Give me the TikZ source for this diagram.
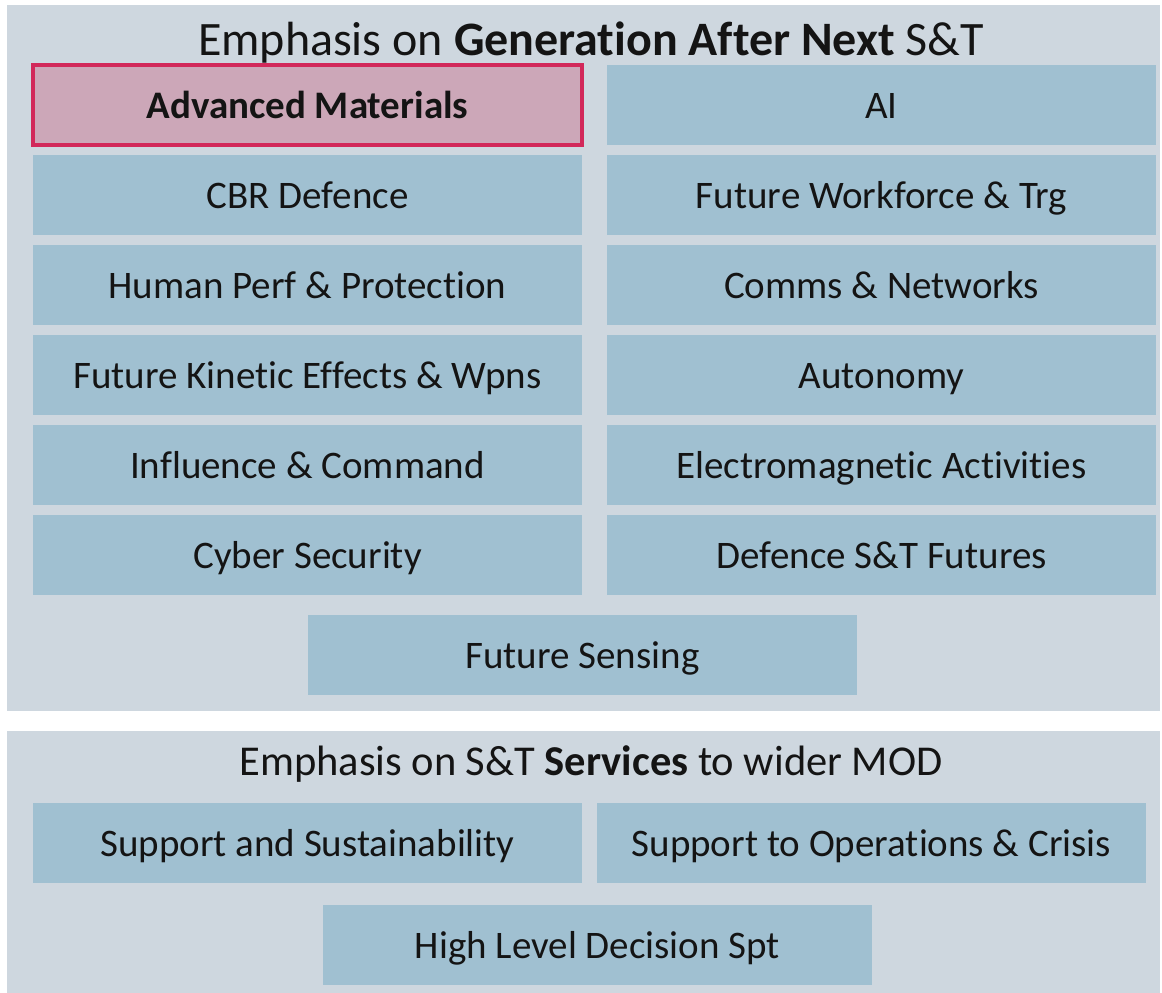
\documentclass[tikz,border=0pt]{standalone}
\usepackage{fontspec}
\setmainfont{Carlito}[Ligatures=NoCommon]
\usepackage{tikz}
\usetikzlibrary{positioning}
\definecolor{panelgray}{RGB}{206,215,223}
\definecolor{tileblue}{RGB}{160,192,209}
\definecolor{tilepink}{RGB}{204,167,184}
\definecolor{accentred}{RGB}{210,40,90}
\definecolor{inkblack}{RGB}{20,20,20}

\begin{document}
\begin{tikzpicture}[x=1pt, y=-1pt, text=inkblack,
    tile/.style={fill=tileblue, minimum width=549pt, minimum height=80pt, inner sep=0pt,
      text height=34pt, text depth=8pt, font=\fontsize{39}{46}\selectfont},
    hilite/.style={tile, fill=tilepink, draw=accentred, line width=3.5pt, font=\fontsize{39}{46}\selectfont\bfseries},
    heading/.style={inner sep=0pt, text height=40pt, text depth=10pt, font=\fontsize{48}{56}\selectfont}]
  \useasboundingbox (0,0) rectangle (1162,993);

  % Horní panel
  \fill[panelgray] (7,5) rectangle (1160,711);
  \node[heading] (topTitle) at (591,40) {Emphasis on \textbf{Generation After Next} S\&T};

  % Levý sloupec
  \node[hilite] (advMat) at (307.5,105) {Advanced Materials};
  \node[tile] (cbr) at (307.5,195) {CBR Defence};
  \node[tile] (humanPerf) at (307.5,285) {Human Perf \& Protection};
  \node[tile] (kinetic) at (307.5,375) {Future Kinetic Effects \& Wpns};
  \node[tile] (influence) at (307.5,465) {Influence \& Command};
  \node[tile] (cyber) at (307.5,555) {Cyber Security};

  % Pravý sloupec
  \node[tile] (ai) at (881.5,105) {AI};
  \node[tile] (workforce) at (881.5,195) {Future Workforce \& Trg};
  \node[tile] (comms) at (881.5,285) {Comms \& Networks};
  \node[tile] (autonomy) at (881.5,375) {Autonomy};
  \node[tile] (emActs) at (881.5,465) {Electromagnetic Activities};
  \node[tile] (futures) at (881.5,555) {Defence S\&T Futures};

  \node[tile] (sensing) at (582.5,655) {Future Sensing};

  % Dolní panel
  \fill[panelgray] (7,731) rectangle (1160,993);
  \node[heading, text height=35pt, font=\fontsize{42.5}{50}\selectfont] (botTitle) at (591,762.5) {Emphasis on S\&T \textbf{Services} to wider MOD};

  \node[tile] (sustain) at (307.5,843) {Support and Sustainability};
  \node[tile] (ops) at (871.5,843) {Support to Operations \& Crisis};
  \node[tile] (decision) at (597.5,945) {High Level Decision Spt};

\end{tikzpicture}
\end{document}
